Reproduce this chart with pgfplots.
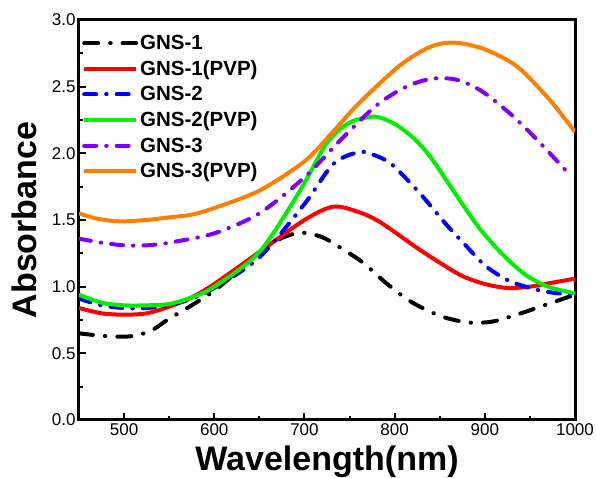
\documentclass[border=0pt]{standalone}
\usepackage{pgfplots}
\pgfplotsset{compat=1.18}
\usepackage{fontspec}
\setmainfont{Liberation Sans}

\definecolor{cRed}{RGB}{255,0,0}
\definecolor{cBlue}{RGB}{0,0,255}
\definecolor{cGreen}{RGB}{0,240,0}
\definecolor{cPurple}{RGB}{128,0,255}
\definecolor{cOrange}{RGB}{255,128,0}

\begin{document}
\begin{tikzpicture}
\begin{axis}[
    scale only axis,
    width=496pt, height=400pt,
    xmin=450, xmax=1000,
    ymin=0, ymax=3,
    xtick={500,600,700,800,900,1000},
    minor xtick={450,550,650,750,850,950},
    ytick={0,0.5,1,1.5,2,2.5,3},
    minor ytick={0.25,0.75,1.25,1.75,2.25,2.75},
    xtick pos=bottom, ytick pos=left,
    tick align=inside,
    major tick length=7pt, minor tick length=4pt,
    every tick/.style={black, line width=2pt},
    axis line style={line width=3pt},
    /pgf/number format/assume math mode=true,
    /pgf/number format/1000 sep={},
    yticklabel style={/pgf/number format/.cd, fixed, fixed zerofill, precision=1},
    ticklabel style={font=\fontsize{17}{20}\selectfont},
    xlabel={Wavelength(nm)},
    ylabel={Absorbance},
    label style={font=\bfseries\fontsize{34}{36}\selectfont},
    xlabel style={yshift=-3pt},
    ylabel style={yshift=8pt},
    legend style={at={(0.0,0.972)}, anchor=north west, draw=none, fill=none,
        font=\bfseries\fontsize{20.5}{24}\selectfont, row sep=5.5pt},
    legend cell align=left,
    legend image code/.code={\draw[#1] (0pt,0pt) -- (52pt,0pt);},
    every axis plot/.append style={line width=4pt, smooth},
]
\addplot[black, line cap=round, dash pattern=on 14pt off 12pt on 0.5pt off 12pt] coordinates {
(450,0.65) (470,0.635) (490,0.625) (510,0.63) (530,0.67) (550,0.76) (575,0.86)
(600,0.97) (625,1.11) (650,1.26) (670,1.35) (695,1.405) (720,1.37) (745,1.27)
(765,1.18) (790,1.03) (815,0.90) (840,0.81) (860,0.76) (885,0.73) (910,0.74) (940,0.80)
(970,0.87) (1000,0.94)};
\addlegendentry{GNS-1}
\addplot[cRed] coordinates {
(450,0.84) (475,0.80) (500,0.79) (525,0.80) (550,0.85) (575,0.92) (600,1.02)
(650,1.26) (700,1.50) (732,1.60) (760,1.56) (780,1.50) (800,1.41) (825,1.29)
(850,1.18) (875,1.08) (900,1.02) (925,0.99) (950,1.00) (975,1.03) (1000,1.06)};
\addlegendentry{GNS-1(PVP)}
\addplot[cBlue, line cap=round, dash pattern=on 12pt off 10pt on 0.5pt off 10pt] coordinates {
(450,0.91) (475,0.86) (500,0.84) (525,0.84) (550,0.86) (575,0.91) (600,0.99)
(650,1.22) (700,1.62) (732,1.92) (761,2.01) (780,1.98) (798,1.91) (828,1.70)
(858,1.46) (876,1.33) (900,1.16) (925,1.05) (950,0.99) (975,0.955) (1000,0.94)};
\addlegendentry{GNS-2}
\addplot[cGreen] coordinates {
(450,0.94) (475,0.88) (500,0.86) (525,0.86) (550,0.87) (575,0.92) (600,1.00)
(650,1.26) (695,1.72) (725,2.08) (750,2.23) (778,2.275) (800,2.22) (820,2.12) (840,1.97)
(872,1.65) (895,1.43) (920,1.24) (945,1.09) (970,1.00) (1000,0.95)};
\addlegendentry{GNS-2(PVP)}
\addplot[cPurple, line cap=round, dash pattern=on 12pt off 10pt on 0.5pt off 10pt] coordinates {
(450,1.36) (475,1.33) (500,1.31) (525,1.31) (550,1.33) (600,1.40) (650,1.55)
(700,1.82) (740,2.10) (780,2.36) (813,2.50) (842,2.56) (870,2.55) (898,2.46)
(931,2.28) (961,2.08) (992,1.855)};
\addlegendentry{GNS-3}
\addplot[cOrange] coordinates {
(450,1.55) (470,1.51) (495,1.49) (525,1.50) (550,1.52) (575,1.54) (600,1.59)
(650,1.72) (700,1.94) (730,2.15) (761,2.38) (806,2.66) (840,2.80) (867,2.83)
(900,2.78) (936,2.65) (972,2.40) (1000,2.16)};
\addlegendentry{GNS-3(PVP)}
\end{axis}
\pgfresetboundingbox
\path (-79pt,-58pt) rectangle (517pt,420pt);
\end{tikzpicture}
\end{document}
